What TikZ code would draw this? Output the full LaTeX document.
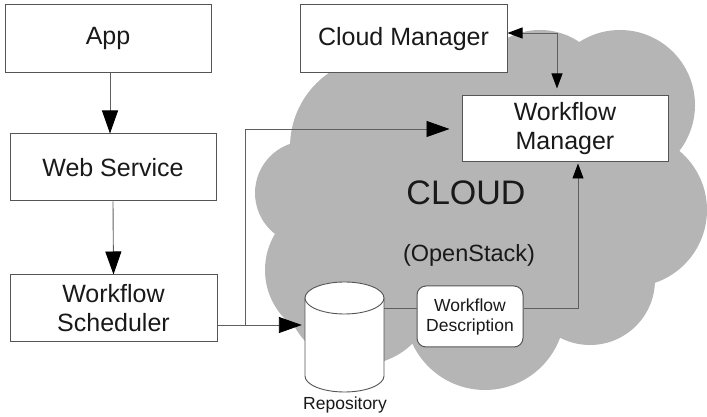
\documentclass[tikz,border=0pt]{standalone}
\usepackage{fontspec}
\setmainfont{Liberation Sans}
\usetikzlibrary{arrows.meta}
\definecolor{cloudgray}{RGB}{181,181,181}
\definecolor{boxgray}{RGB}{85,85,85}
\definecolor{linegray}{RGB}{95,95,95}
\definecolor{txt}{RGB}{25,25,25}
\begin{document}
\begin{tikzpicture}[x=1pt,y=1pt,
  box/.style={draw=boxgray, line width=1pt, fill=white, inner sep=0pt, text=txt, align=center},
  bigfont/.style={font=\fontsize{25}{29}\selectfont},
  smallfont/.style={font=\fontsize{17.5}{20}\selectfont},
  conn/.style={draw=linegray, line width=0.9pt},
  big/.style={conn, -{Triangle[length=23pt,width=16pt,color=black]}},
  small/.style={conn, -{Triangle[length=15pt,width=11pt,color=black]}},
  smallboth/.style={conn, {Triangle[length=15pt,width=11pt,color=black]}-{Triangle[length=15pt,width=11pt,color=black]}}
]
\useasboundingbox (0,0) rectangle (707,417);
% cloud
\fill[cloudgray]
  (380,270) circle (90)
  (470,307) circle (60)
  (540,317) circle (70)
  (620,312) circle (75)
  (630,207) circle (77)
  (590,137) circle (65)
  (485,107) circle (80)
  (360,127) circle (75)
  (335,147) circle (70)
  (307,224) circle (52)
  (480,210) circle (130);

% nodes
\node[box, bigfont, minimum width=206, minimum height=68] (app) at (108,378) {App};
\node[box, bigfont, minimum width=206, minimum height=67] (ws) at (113,249.5) {Web Service};
\node[box, bigfont, minimum width=207, minimum height=67] (wfs) at (113.5,108.5) {Workflow\\Scheduler};
\node[box, bigfont, minimum width=207, minimum height=68] (cm) at (403.5,378) {Cloud Manager};
\node[box, bigfont, minimum width=206, minimum height=66] (wm) at (565,288) {Workflow\\Manager};
\node[box, smallfont, rounded corners=9pt, minimum width=106, minimum height=61] (wd) at (470,100.5) {Workflow\\Description};
\node[font=\fontsize{34}{40}\selectfont, text=txt] (cloudlbl) at (466,224) {CLOUD};
\node[font=\fontsize{23.5}{28}\selectfont, text=txt] (osl) at (469,162) {(OpenStack)};
\node[minimum width=79, minimum height=110, inner sep=0pt] (repo) at (344.5,80) {};
\node[smallfont, text=txt] (repolbl) at (345,12) {Repository};

% cylinder
\fill[white] (305,41) rectangle (384,119);
\fill[white] (344.5,41) ellipse (39.5 and 16);
\draw[boxgray, line width=0.9pt] (305,119) -- (305,41) arc (180:360:39.5 and 16) -- (384,119);
\draw[boxgray, line width=0.9pt, fill=white] (344.5,119) ellipse (39.5 and 16);

% coordinates
\coordinate (br) at (245,92);
\coordinate (cmc) at (557,384);
\coordinate (wdc) at (578,109);

% connectors
\draw[big] ([xshift=2pt]app.south) -- ([xshift=2pt]app.south |- ws.north);
\draw[big] (ws.south) -- (wfs.north);
\draw[conn] (wfs.east |- br) -- (br);
\draw[big, shorten >=3pt] (br) -- (br -| repo.west);
\draw[big, shorten >=12pt] (br) |- (wm.west);
\draw[smallboth, shorten >=7pt] (cm.east |- cmc) -- (cmc) -- (cmc |- wm.north);
\draw[conn] (repo.east |- wdc) -- (wd.west |- wdc);
\draw[small, shorten >=1pt] (wd.east |- wdc) -- (wdc) -- (wdc |- wm.south);
\end{tikzpicture}
\end{document}
